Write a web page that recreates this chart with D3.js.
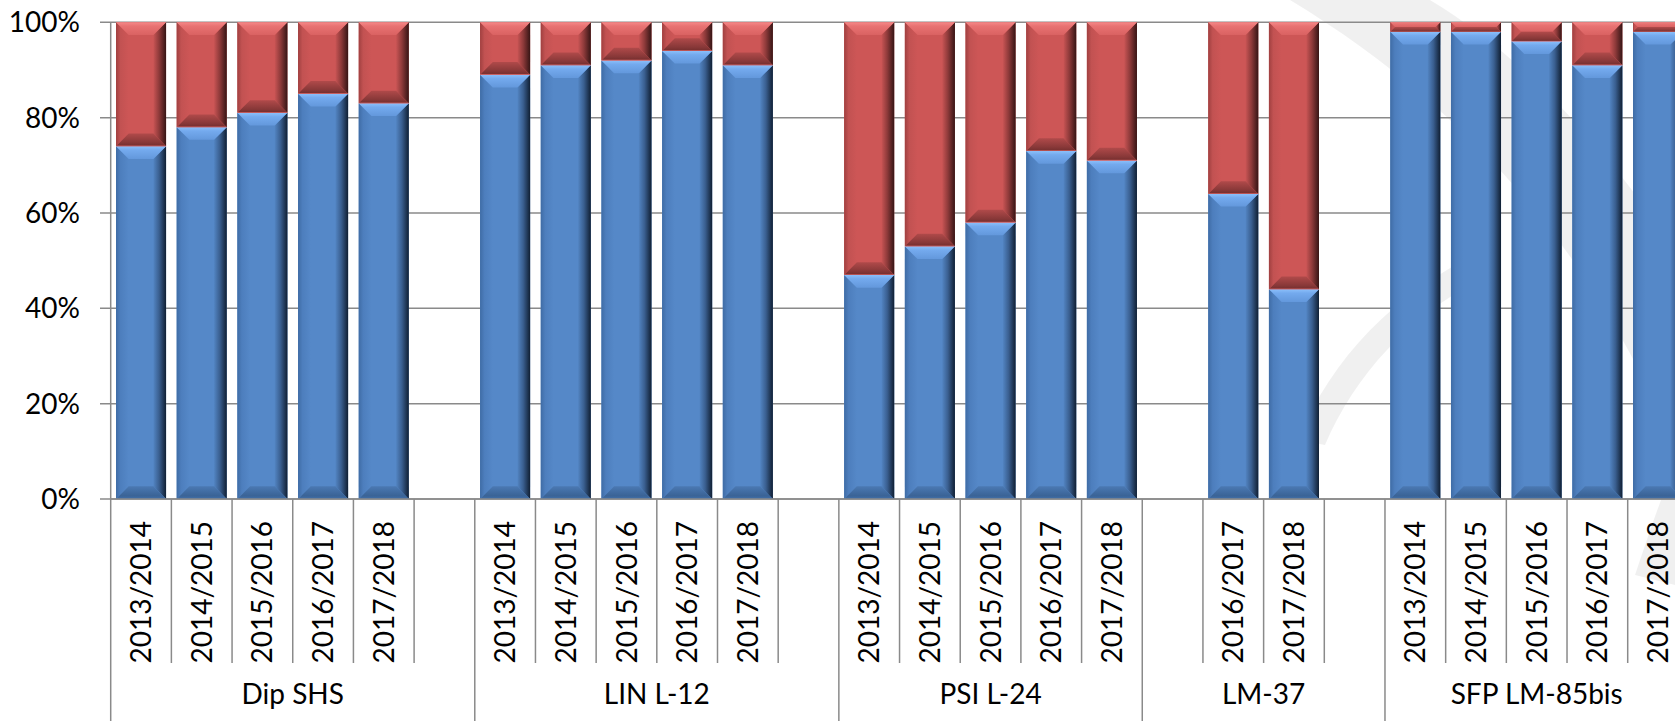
<!DOCTYPE html>
<html>
<head>
<meta charset="utf-8">
<script src="https://cdn.jsdelivr.net/npm/d3@7"></script>
<style>
  html, body { margin: 0; padding: 0; background: #ffffff; overflow: hidden; }
  svg { display: block; font-family: Lato, "Open Sans", sans-serif; }
</style>
</head>
<body>
<svg id="chart" width="1675" height="721"></svg>
<script>
// Programme groups along the outer category level
const groups = ["Dip SHS", "LIN L-12", "PSI L-24", "LM-37", "SFP LM-85bis"];

// Academic-year slots inside each group ("" = spacer slot)
const slotLabels = [
  ["2013/2014", "2014/2015", "2015/2016", "2016/2017", "2017/2018", ""],
  ["2013/2014", "2014/2015", "2015/2016", "2016/2017", "2017/2018", ""],
  ["2013/2014", "2014/2015", "2015/2016", "2016/2017", "2017/2018"],
  ["", "2016/2017", "2017/2018", ""],
  ["2013/2014", "2014/2015", "2015/2016", "2016/2017", "2017/2018"]
];

// Lower (blue) share per slot, percent
const blueShare = [
  [74, 78, 81, 85, 83, null],
  [89, 91, 92, 94, 91, null],
  [47, 53, 58, 73, 71],
  [null, 64, 44, null],
  [98, 98, 96, 91, 98]
];

// Upper (red) share per slot, percent
const redShare = [
  [26, 22, 19, 15, 17, null],
  [11, 9, 8, 6, 9, null],
  [53, 47, 42, 27, 29],
  [null, 36, 56, null],
  [2, 2, 4, 9, 2]
];

const yTicks = [0, 20, 40, 60, 80, 100];

// Flatten into one row per slot
const slots = [];
groups.forEach((g, gi) => {
  slotLabels[gi].forEach((lab, si) => {
    slots.push({
      id: gi + "-" + si, group: g, gi, label: lab,
      blue: blueShare[gi][si], red: redShare[gi][si]
    });
  });
});

const svg = d3.select("#chart");
const plotLeft = 110.7, slotStep = 60.68, plotTop = 22.3, plotBottom = 499;
const axisColor = "#8a8a8a";

const x = d3.scaleBand()
  .domain(slots.map(d => d.id))
  .range([plotLeft, plotLeft + slotStep * slots.length])
  .paddingInner(0.175)
  .paddingOuter(0.0875);

const y = d3.scaleLinear().domain([0, 100]).range([plotBottom, plotTop]);

// ---- faint background swoosh ----
const wm = svg.append("g").attr("fill", "#000").attr("fill-opacity", 0.06);
wm.append("path").attr("d",
  "M1290,0 L1430,0 C1530,60 1615,160 1675,250 L1675,450 C1615,300 1505,130 1290,0 Z");
wm.append("path").attr("d",
  "M1298,440 C1335,350 1405,285 1495,245 L1480,280 C1410,315 1355,375 1325,445 Z");
wm.append("path").attr("d",
  "M1635,575 C1650,530 1662,495 1675,465 L1675,585 Z");

// ---- gradients for the bevelled bars ----
const defs = svg.append("defs");
const palette = {
  blue: {
    base: "#5588c8",
    top: [["0", "#8cc0fb"], ["0.3", "#74aaee"], ["1", "#6398dc"]],
    bottom: [["0", "#4b79b3"], ["0.75", "#3a6396"], ["1", "#4270aa"]],
    left: [["0", "#3f6ca5"], ["0.35", "#4d7ebd"], ["1", "#5588c8"]],
    right: [["0", "#5284c2"], ["0.45", "#3a5f90"], ["1", "#101f33"]]
  },
  red: {
    base: "#cd5656",
    top: [["0", "#f68888"], ["0.3", "#e87272"], ["1", "#da6262"]],
    bottom: [["0", "#b04a4a"], ["0.7", "#883838"], ["0.9", "#7a3131"], ["1", "#d86464"]],
    left: [["0", "#a04040"], ["0.35", "#c25252"], ["1", "#cd5656"]],
    right: [["0", "#c85454"], ["0.45", "#8e3a3a"], ["1", "#361515"]]
  }
};
Object.entries(palette).forEach(([name, p]) => {
  const dirs = { top: [0, 0, 0, 1], bottom: [0, 0, 0, 1], left: [0, 0, 1, 0], right: [0, 0, 1, 0] };
  Object.entries(dirs).forEach(([side, v]) => {
    const lg = defs.append("linearGradient").attr("id", `g-${name}-${side}`)
      .attr("x1", v[0]).attr("y1", v[1]).attr("x2", v[2]).attr("y2", v[3]);
    p[side].forEach(s => lg.append("stop").attr("offset", s[0]).attr("stop-color", s[1]));
  });
});

// ---- gridlines and value axis ----
const grid = svg.append("g");
grid.selectAll("line").data(yTicks).join("line")
  .attr("x1", plotLeft - 10.7).attr("x2", 1675)
  .attr("y1", d => y(d)).attr("y2", d => y(d))
  .attr("stroke", axisColor).attr("stroke-width", 1.5);

svg.append("g").selectAll("text").data(yTicks).join("text")
  .attr("x", 80).attr("y", d => y(d)).attr("dy", "0.36em")
  .attr("text-anchor", "end").attr("font-size", 28).attr("fill", "#000")
  .text(d => d + "%");

// ---- bevelled stacked bars ----
function bevelSegment(g, x0, y0, w, h, name) {
  if (h <= 0) return;
  const b = Math.min(12.7, h / 2, w / 2);
  const p = palette[name];
  const seg = g.append("g");
  seg.append("rect").attr("x", x0).attr("y", y0).attr("width", w).attr("height", h).attr("fill", p.base);
  const x1 = x0 + w, y1 = y0 + h;
  const poly = (pts, side) => seg.append("path")
    .attr("d", "M" + pts.map(q => q.join(",")).join("L") + "Z")
    .attr("fill", `url(#g-${name}-${side})`);
  poly([[x0, y0], [x0 + b, y0 + b], [x0 + b, y1 - b], [x0, y1]], "left");
  poly([[x1, y0], [x1 - b, y0 + b], [x1 - b, y1 - b], [x1, y1]], "right");
  poly([[x0, y0], [x1, y0], [x1 - b, y0 + b], [x0 + b, y0 + b]], "top");
  poly([[x0, y1], [x1, y1], [x1 - b, y1 - b], [x0 + b, y1 - b]], "bottom");
}

const bars = svg.append("g");
slots.filter(d => d.blue != null).forEach(d => {
  const bx = x(d.id), bw = x.bandwidth();
  bevelSegment(bars, bx, y(d.blue), bw, y(0) - y(d.blue), "blue");
  bevelSegment(bars, bx, y(d.blue + d.red), bw, y(d.blue) - y(d.blue + d.red), "red");
});

// ---- category axis (two levels) ----
const axis = svg.append("g").attr("stroke", axisColor).attr("stroke-width", 1.5);
axis.append("line").attr("x1", plotLeft).attr("x2", 1675).attr("y1", plotBottom).attr("y2", plotBottom);

// slot boundaries
let idx = 0;
const groupEdges = [0];
slotLabels.forEach(s => { idx += s.length; groupEdges.push(idx); });
d3.range(slots.length + 1).forEach(i => {
  const isGroupEdge = groupEdges.includes(i);
  const xx = x.range()[0] + i * x.step();
  axis.append("line")
    .attr("x1", xx).attr("x2", xx)
    .attr("y1", i === 0 ? plotTop : plotBottom)
    .attr("y2", isGroupEdge ? 721 : 663);
});

// year labels (rotated)
svg.append("g").selectAll("text").data(slots.filter(d => d.label)).join("text")
  .attr("transform", d => `translate(${x(d.id) + x.bandwidth() / 2},521) rotate(-90)`)
  .attr("dy", "0.36em").attr("text-anchor", "end")
  .attr("font-size", 28).attr("fill", "#000")
  .text(d => d.label);

// group labels
svg.append("g").selectAll("text").data(groups).join("text")
  .attr("x", (g, gi) => x.range()[0] + (groupEdges[gi] + groupEdges[gi + 1]) / 2 * x.step())
  .attr("y", 704).attr("text-anchor", "middle")
  .attr("font-size", 28).attr("fill", "#000")
  .text(g => g);
</script>
</body>
</html>
